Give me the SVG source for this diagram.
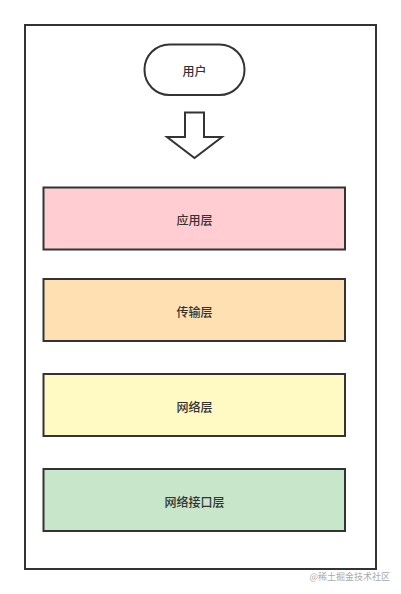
<svg xmlns="http://www.w3.org/2000/svg" width="401" height="594" viewBox="0 0 401 594">
<style>
.frame{fill:#fff;stroke:#333;stroke-width:2}
.box{stroke:#333;stroke-width:2}
.lbl{font-family:"Noto Sans CJK SC","Liberation Sans",sans-serif;font-size:12px;font-weight:500;fill:#333;text-anchor:middle;dominant-baseline:central}
.wm{font-family:"Noto Sans CJK SC","Liberation Sans",sans-serif;font-size:9px;fill:#aaa;text-anchor:end}
</style>
<rect width="401" height="594" fill="#fff"/>
<g id="frame"><rect class="frame" x="25" y="25" width="351" height="544"/></g>
<g id="user">
<rect class="box" x="144.5" y="44.5" width="100" height="50.5" rx="25" ry="25" fill="#fff"/>
<text class="lbl" x="194.5" y="70">用户</text>
</g>
<g id="connectors">
<polygon points="185,112.5 204,112.5 204,137 222,137 194.5,158 167,137 185,137" fill="#fff" stroke="#333" stroke-width="2" stroke-linejoin="miter"/>
</g>
<g id="app">
<rect class="box" x="43.5" y="187.5" width="301.5" height="62" fill="#FFCDD2"/>
<text class="lbl" x="194.5" y="219">应用层</text>
</g>
<g id="transport">
<rect class="box" x="43.5" y="279" width="301.5" height="62" fill="#FFE0B2"/>
<text class="lbl" x="194.5" y="311">传输层</text>
</g>
<g id="network">
<rect class="box" x="43.5" y="374" width="301.5" height="62" fill="#FFF9C4"/>
<text class="lbl" x="194.5" y="406">网络层</text>
</g>
<g id="link">
<rect class="box" x="43.5" y="469" width="301.5" height="62" fill="#C8E6C9"/>
<text class="lbl" x="194.5" y="501">网络接口层</text>
</g>
<text class="wm" x="390" y="580">@稀土掘金技术社区</text>
</svg>
